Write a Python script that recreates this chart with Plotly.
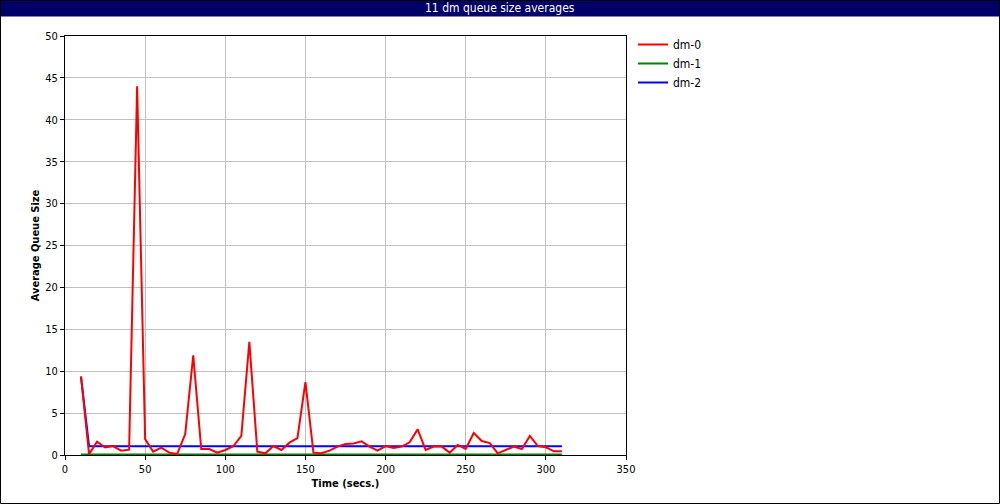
import plotly.graph_objects as go

time_s = [10, 15, 20, 25, 30, 35, 40, 45, 50, 55, 60, 65, 70, 75, 80, 85, 90, 95, 100, 105,
          110, 115, 120, 125, 130, 135, 140, 145, 150, 155, 160, 165, 170, 175, 180, 185, 190,
          195, 200, 205, 210, 215, 220, 225, 230, 235, 240, 245, 250, 255, 260, 265, 270, 275,
          280, 285, 290, 295, 300, 305, 310]
dm0 = [9.4, 0.1, 1.6, 0.9, 1.07, 0.52, 0.64, 44.0, 1.9, 0.4, 0.87, 0.28, 0.12, 2.5, 11.9, 0.72,
       0.72, 0.28, 0.6, 1.04, 2.27, 13.5, 0.4, 0.2, 1.07, 0.6, 1.47, 2.0, 8.7, 0.28, 0.2, 0.52,
       1.0, 1.31, 1.38, 1.63, 1.0, 0.52, 1.07, 0.84, 1.0, 1.51, 3.06, 0.6, 1.0, 1.0, 0.28, 1.2,
       0.72, 2.63, 1.67, 1.43, 0.2, 0.56, 1.0, 0.72, 2.27, 1.07, 0.92, 0.44, 0.44]
dm1 = [0.05] * len(time_s)
dm2 = [9.3] + [1.05] * (len(time_s) - 1)

series = [("dm-0", dm0, "#ff0000"), ("dm-1", dm1, "#008000"), ("dm-2", dm2, "#0000ff")]

FONT = "Liberation Sans Narrow, DejaVu Sans Condensed, Arial Narrow, sans-serif"

fig = go.Figure()
# draw blue/green first so red stays on top, but keep legend order dm-0, dm-1, dm-2
for rank, (name, vals, col) in reversed(list(enumerate(series))):
    fig.add_trace(go.Scatter(x=time_s, y=vals, mode="lines", name=name,
                             line=dict(color=col, width=2), legendrank=rank + 1))

L, R, T, B = 65, 374, 36, 49
PW, PH = 1000 - L - R, 504 - T - B

def px(xp):
    return (xp - L) / PW

def py(yp):
    return 1 + (T - yp) / PH

fig.update_layout(
    width=1000, height=504,
    margin=dict(l=L, r=R, t=T, b=B),
    paper_bgcolor="white", plot_bgcolor="white",
    font=dict(family=FONT, size=11, color="black"),
    showlegend=True,
    legend=dict(x=px(633), y=py(30), xanchor="left", yanchor="top",
                font=dict(family=FONT, size=12), bgcolor="rgba(0,0,0,0)",
                tracegroupgap=0, itemwidth=30),
    xaxis=dict(range=[0, 350], dtick=50, tick0=0, showgrid=True, gridcolor="#c0c0c0",
               gridwidth=1, zeroline=False, showline=True, linecolor="black", linewidth=1,
               mirror=True, ticks="outside", ticklen=4, tickcolor="black",
               title=dict(text="<b>Time (secs.)</b>", font=dict(family=FONT, size=11), standoff=4)),
    yaxis=dict(range=[0, 50], dtick=5, tick0=0, showgrid=True, gridcolor="#c0c0c0",
               gridwidth=1, zeroline=False, showline=True, linecolor="black", linewidth=1,
               mirror=True, ticks="outside", ticklen=4, tickcolor="black",
               title=dict(text="<b>Average Queue Size</b>", font=dict(family=FONT, size=11), standoff=3)),
    shapes=[
        dict(type="rect", xref="paper", yref="paper", x0=px(0), x1=px(1000), y0=py(16.5), y1=py(0),
             fillcolor="#000066", line=dict(width=0), layer="above"),
        dict(type="rect", xref="paper", yref="paper", x0=px(0.5), x1=px(999.5), y0=py(503.5), y1=py(0.5),
             fillcolor="rgba(0,0,0,0)", line=dict(color="black", width=1), layer="above"),
    ],
    annotations=[
        dict(text="11 dm queue size averages", xref="paper", yref="paper", x=px(500), y=py(8.5),
             xanchor="center", yanchor="middle", showarrow=False,
             font=dict(family=FONT, size=12, color="white")),
    ],
)

fig.write_html("out.html", config={"displayModeBar": False},
               post_script="document.body.style.margin='0';document.body.style.padding='0';")
